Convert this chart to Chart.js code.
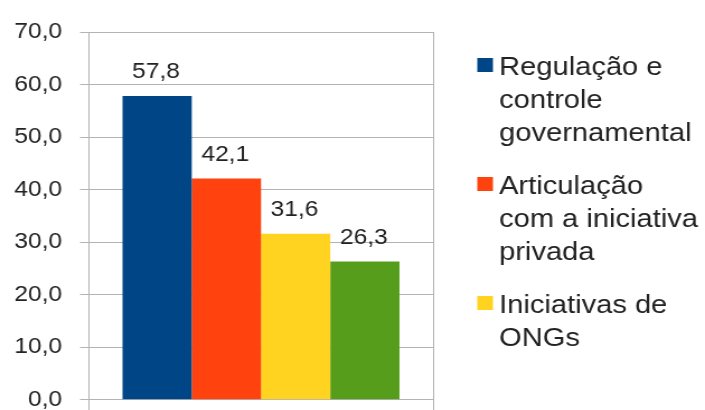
<!DOCTYPE html>
<html>
<head>
<meta charset="utf-8">
<script src="https://cdn.jsdelivr.net/npm/chart.js@4/dist/chart.umd.min.js"></script>
<style>
  html, body { margin: 0; padding: 0; background: #ffffff; overflow: hidden; }
  #wrap { width: 705px; height: 410px; overflow: hidden; }
</style>
</head>
<body>
<div id="wrap"><canvas id="c" width="630" height="429" style="display:block;width:705px;height:429px"></canvas></div>
<script>
// Category (single group of bars)
const categories = [''];

// Series names, wrapped the way the legend shows them
const seriesNames = [
  ['Regulação e', 'controle', 'governamental'],
  ['Articulação', 'com a iniciativa', 'privada'],
  ['Iniciativas de', 'ONGs'],
  ''
];

// Series values (%)
const seriesValues = [57.8, 42.1, 31.6, 26.3];

// Series colours
const seriesColors = ['#004586', '#ff420e', '#ffd320', '#579d1c'];

// Value axis ticks
const yTicks = [0, 10, 20, 30, 40, 50, 60, 70];

const FONT = '"Liberation Sans", Arial, sans-serif';
const TEXT = '#222222';
const GRID = '#b3b3b3';

const fmt = v => v.toFixed(1).replace('.', ',');

// Value labels above each bar
const valueLabels = {
  id: 'valueLabels',
  afterDatasetsDraw(chart) {
    const ctx = chart.ctx;
    ctx.save();
    ctx.font = '22px ' + FONT;
    ctx.fillStyle = TEXT;
    ctx.textAlign = 'center';
    ctx.textBaseline = 'alphabetic';
    chart.data.datasets.forEach((ds, i) => {
      const meta = chart.getDatasetMeta(i);
      meta.data.forEach((bar, j) => {
        ctx.fillText(fmt(ds.data[j]), bar.x - 1, bar.y - 18);
      });
    });
    ctx.restore();
  }
};

// Legend on the right with wrapped labels
const sideLegend = {
  id: 'sideLegend',
  afterDraw(chart) {
    const ctx = chart.ctx;
    const boxX = 426.5, textX = 446, lineH = 33, gap = 20;
    let baseline = 75;
    ctx.save();
    ctx.font = '26px ' + FONT;
    ctx.textAlign = 'left';
    ctx.textBaseline = 'alphabetic';
    chart.data.datasets.forEach(ds => {
      const lines = Array.isArray(ds.label) ? ds.label : (ds.label ? [ds.label] : []);
      if (!lines.length) return;
      ctx.fillStyle = ds.backgroundColor;
      ctx.fillRect(boxX, baseline - 17, 14, 14);
      ctx.fillStyle = TEXT;
      lines.forEach((t, k) => ctx.fillText(t, textX, baseline + k * lineH));
      baseline += lines.length * lineH + gap;
    });
    ctx.restore();
  }
};

new Chart(document.getElementById('c'), {
  type: 'bar',
  data: {
    labels: categories,
    datasets: seriesValues.map((v, i) => ({
      label: seriesNames[i],
      data: [v],
      backgroundColor: seriesColors[i],
      borderWidth: 0
    }))
  },
  options: {
    responsive: false,
    animation: false,
    devicePixelRatio: 1,
    layout: { padding: { top: 32, right: 243, bottom: 1, left: 0 } },
    datasets: { bar: { barPercentage: 1, categoryPercentage: 0.805 } },
    plugins: { legend: { display: false }, tooltip: { enabled: false } },
    scales: {
      x: {
        ticks: { display: false },
        grid: { display: true, color: GRID, lineWidth: 1, tickLength: 12, offset: true },
        border: { display: true, color: GRID, width: 1 },
        afterFit(scale) { scale.height = 12; }
      },
      y: {
        min: 0,
        max: 70,
        afterBuildTicks(scale) { scale.ticks = yTicks.map(v => ({ value: v })); },
        ticks: {
          callback: v => fmt(v),
          color: TEXT,
          font: { family: FONT, size: 22 },
          padding: 16
        },
        grid: { color: GRID, lineWidth: 1, tickLength: 8 },
        border: { display: true, color: GRID, width: 1 },
        afterFit(scale) { scale.width = 79.5; }
      }
    }
  },
  plugins: [valueLabels, sideLegend]
});
</script>
</body>
</html>
